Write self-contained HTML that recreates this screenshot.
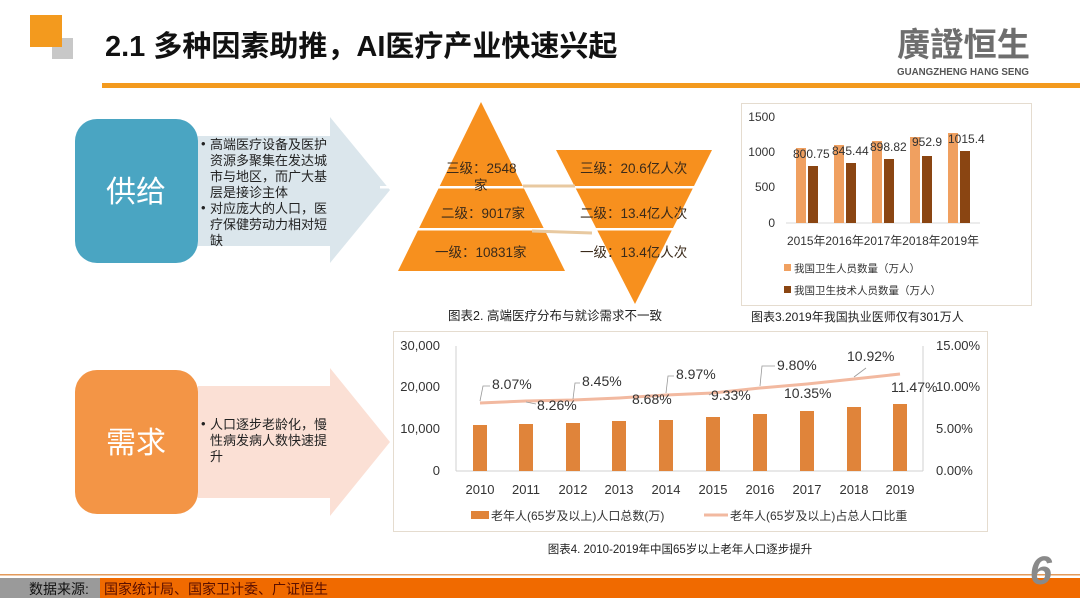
<!DOCTYPE html>
<html><head><meta charset="utf-8"><style>
html,body{margin:0;padding:0;background:#fff;}
body{width:1080px;height:608px;overflow:hidden;position:relative;font-family:"Liberation Sans","Noto Sans CJK SC",sans-serif;}
</style></head><body>
<svg width="1080" height="608" viewBox="0 0 1080 608" xmlns="http://www.w3.org/2000/svg" font-family="Liberation Sans, Noto Sans CJK SC, sans-serif">
<!-- header -->
<rect x="52" y="38" width="21" height="21" fill="#c8c8c8"/>
<rect x="30" y="15" width="32" height="32" fill="#f39a1e"/>
<text x="105" y="56" font-size="29" font-weight="bold" fill="#111">2.1 多种因素助推，AI医疗产业快速兴起</text>
<text x="1030" y="56" font-size="33" fill="#6e6e6e" text-anchor="end" font-weight="bold" textLength="133" lengthAdjust="spacingAndGlyphs">廣證恒生</text>
<text x="1029" y="75" font-size="10" fill="#555" text-anchor="end" font-weight="bold" textLength="132" lengthAdjust="spacingAndGlyphs">GUANGZHENG HANG SENG</text>
<rect x="102" y="83" width="978" height="5" fill="#f39a1e"/>

<!-- supply -->
<polygon points="198,136 330,136 330,117 390,190 330,263 330,246 198,246" fill="#dbe6ec"/>
<rect x="75" y="119" width="123" height="144" rx="22" fill="#4aa5c2"/>
<text x="136" y="202" font-size="30" fill="#fff" text-anchor="middle">供给</text>
<g font-size="13" fill="#222">
<text x="201" y="148">•</text>
<text x="210" y="149">高端医疗设备及医护</text>
<text x="210" y="165">资源多聚集在发达城</text>
<text x="210" y="181">市与地区，而广大基</text>
<text x="210" y="197">层是接诊主体</text>
<text x="201" y="212">•</text>
<text x="210" y="213">对应庞大的人口，医</text>
<text x="210" y="229">疗保健劳动力相对短</text>
<text x="210" y="245">缺</text>
</g>

<!-- demand -->
<polygon points="198,386 330,386 330,368 390,442 330,516 330,498 198,498" fill="#fbe0d5"/>
<rect x="75" y="370" width="123" height="144" rx="22" fill="#f39546"/>
<text x="136" y="453" font-size="30" fill="#fff" text-anchor="middle">需求</text>
<g font-size="13" fill="#222">
<text x="201" y="428">•</text>
<text x="210" y="429">人口逐步老龄化，慢</text>
<text x="210" y="445">性病发病人数快速提</text>
<text x="210" y="461">升</text>
</g>

<!-- pyramid -->
<polygon points="481,102 565,271 398,271" fill="#f7901e"/>
<polygon points="556,150 712,150 635,304" fill="#f7901e"/>
<rect x="380" y="186" width="340" height="2.5" fill="#fff"/>
<rect x="380" y="228" width="340" height="2.5" fill="#fff"/>
<line x1="523" y1="186" x2="575" y2="186" stroke="#e8c9a0" stroke-width="3"/>
<line x1="532" y1="231" x2="592" y2="233" stroke="#e8c9a0" stroke-width="3"/>
<g font-size="13.5" fill="#3a2a1a">
<text x="446" y="173">三级：2548</text>
<text x="474" y="190">家</text>
<text x="441" y="218">二级：9017家</text>
<text x="435" y="257">一级：10831家</text>
<text x="580" y="173">三级：20.6亿人次</text>
<text x="580" y="218">二级：13.4亿人次</text>
<text x="580" y="257">一级：13.4亿人次</text>
</g>
<text x="555" y="320" font-size="12.5" fill="#222" text-anchor="middle">图表2. 高端医疗分布与就诊需求不一致</text>

<!-- chart3 -->
<rect x="741.5" y="103.5" width="290" height="202" fill="#fff" stroke="#e5dccf"/>
<g font-size="12" fill="#333" text-anchor="end">
<text x="775" y="121">1500</text><text x="775" y="156">1000</text><text x="775" y="191">500</text><text x="775" y="227">0</text>
</g>
<line x1="786" y1="223" x2="980" y2="223" stroke="#d9d9d9"/>
<g fill="#f0a060">
<rect x="796" y="148" width="10" height="75"/><rect x="834" y="145" width="10" height="78"/><rect x="872" y="141" width="10" height="82"/><rect x="910" y="137" width="10" height="86"/><rect x="948" y="133" width="10" height="90"/>
</g>
<g fill="#8a4512">
<rect x="808" y="166" width="10" height="57"/><rect x="846" y="163" width="10" height="60"/><rect x="884" y="159" width="10" height="64"/><rect x="922" y="156" width="10" height="67"/><rect x="960" y="151" width="10" height="72"/>
</g>
<g font-size="12" fill="#333">
<text x="793" y="158">800.75</text><text x="832" y="155">845.44</text><text x="870" y="151">898.82</text><text x="912" y="146">952.9</text><text x="948" y="143">1015.4</text>
<text x="787" y="245" textLength="192" lengthAdjust="spacingAndGlyphs">2015年2016年2017年2018年2019年</text>
</g>
<rect x="784" y="264" width="7" height="7" fill="#f0a060"/>
<text x="794" y="272" font-size="10.5" fill="#333">我国卫生人员数量（万人）</text>
<rect x="784" y="286" width="7" height="7" fill="#8a4512"/>
<text x="794" y="294" font-size="10.5" fill="#333">我国卫生技术人员数量（万人）</text>
<text x="751" y="321" font-size="12" fill="#222">图表3.2019年我国执业医师仅有301万人</text>

<!-- chart4 -->
<rect x="393.5" y="331.5" width="594" height="200" fill="#fff" stroke="#e5dccf"/>
<g font-size="13" fill="#333" text-anchor="end">
<text x="440" y="350">30,000</text><text x="440" y="391">20,000</text><text x="440" y="433">10,000</text><text x="440" y="475">0</text>
</g>
<g font-size="13" fill="#333">
<text x="936" y="350">15.00%</text><text x="936" y="391">10.00%</text><text x="936" y="433">5.00%</text><text x="936" y="475">0.00%</text>
</g>
<line x1="456" y1="346" x2="456" y2="471" stroke="#d0d0d0"/>
<line x1="923" y1="346" x2="923" y2="471" stroke="#d0d0d0"/>
<line x1="456" y1="471" x2="923" y2="471" stroke="#d0d0d0"/>
<g fill="#e0843a">
<rect x="473" y="425" width="14" height="46"/><rect x="519" y="424" width="14" height="47"/><rect x="566" y="423" width="14" height="48"/><rect x="612" y="421" width="14" height="50"/><rect x="659" y="420" width="14" height="51"/><rect x="706" y="417" width="14" height="54"/><rect x="753" y="414" width="14" height="57"/><rect x="800" y="411" width="14" height="60"/><rect x="847" y="407" width="14" height="64"/><rect x="893" y="404" width="14" height="67"/>
</g>
<polyline points="480,403 526,401 573,400 619,398 666,395 713,393 760,388 807,384 854,379 900,374" fill="none" stroke="#f2b9a0" stroke-width="3"/>
<g stroke="#999" fill="none" stroke-width="0.8">
<polyline points="480,401 483,386 490,386"/>
<polyline points="526,402 536,404"/>
<polyline points="573,399 575,383 580,383"/>
<polyline points="666,393 668,376 674,376"/>
<polyline points="713,393 709,395"/>
<polyline points="760,386 762,366 775,366"/>
<polyline points="854,377 866,368"/>
</g>
<g font-size="14" fill="#333">
<text x="492" y="389">8.07%</text><text x="537" y="410">8.26%</text><text x="582" y="386">8.45%</text><text x="632" y="404">8.68%</text><text x="676" y="379">8.97%</text><text x="711" y="400">9.33%</text><text x="777" y="370">9.80%</text><text x="784" y="398">10.35%</text><text x="847" y="361">10.92%</text><text x="891" y="392">11.47%</text>
</g>
<g font-size="13" fill="#333" text-anchor="middle">
<text x="480" y="494">2010</text><text x="526" y="494">2011</text><text x="573" y="494">2012</text><text x="619" y="494">2013</text><text x="666" y="494">2014</text><text x="713" y="494">2015</text><text x="760" y="494">2016</text><text x="807" y="494">2017</text><text x="854" y="494">2018</text><text x="900" y="494">2019</text>
</g>
<rect x="471" y="511" width="18" height="8" fill="#e0843a"/>
<text x="491" y="520" font-size="12" fill="#333">老年人(65岁及以上)人口总数(万)</text>
<line x1="704" y1="515" x2="728" y2="515" stroke="#f2b9a0" stroke-width="3"/>
<text x="730" y="520" font-size="12" fill="#333">老年人(65岁及以上)占总人口比重</text>
<text x="680" y="553" font-size="11.5" fill="#222" text-anchor="middle">图表4. 2010-2019年中国65岁以上老年人口逐步提升</text>

<!-- footer -->
<rect x="0" y="574" width="1080" height="1.5" fill="#e39a5a"/>
<rect x="0" y="578" width="100" height="20" fill="#9a9a9a"/>
<rect x="100" y="578" width="980" height="20" fill="#f06a00"/>
<text x="29" y="594" font-size="14" fill="#111">数据来源:</text>
<text x="104" y="594" font-size="14" fill="#5a0f00">国家统计局、国家卫计委、广证恒生</text>
<text x="1052" y="584" font-size="40" font-weight="bold" font-style="italic" fill="#8a8a8a" text-anchor="end">6</text>
</svg>
</body></html>
